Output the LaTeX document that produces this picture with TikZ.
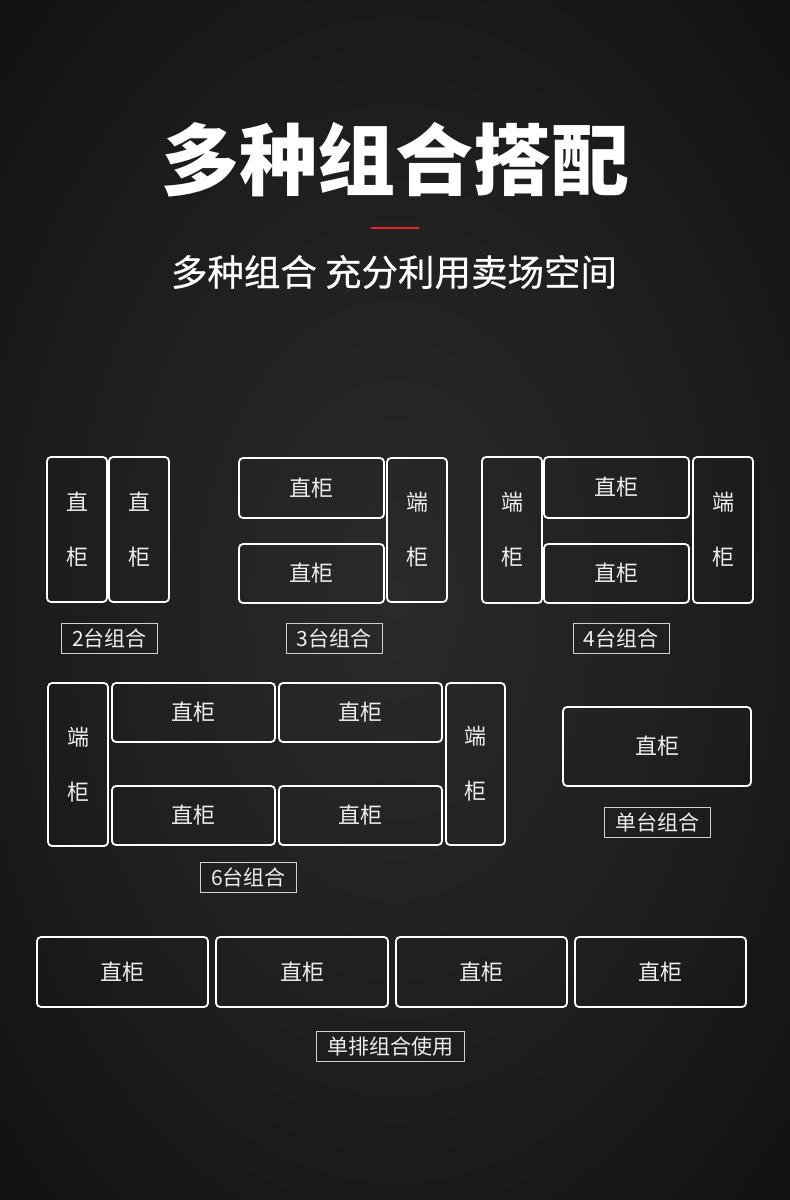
\documentclass[tikz,border=0pt]{standalone}
\usepackage{fontspec}
\setmainfont{Noto Sans CJK SC}
\newfontfamily\cjksub{Noto Sans CJK SC}[FakeBold=0.5]
\usepackage{tikz}

\definecolor{bgmid}{HTML}{2A2A2A}
\definecolor{bgring}{HTML}{1E1E1E}
\definecolor{bgedge}{HTML}{0C0C0C}
\definecolor{inkwhite}{HTML}{EEEEEE}
\definecolor{tagline}{HTML}{D0D0D0}
\definecolor{accentred}{HTML}{E3262E}

\pgfdeclareradialshading{backglow}{\pgfpoint{0bp}{0bp}}{%
  color(0bp)=(bgmid); color(20bp)=(bgring); color(42bp)=(bgedge); color(50bp)=(bgedge)}

\begin{document}
\begin{tikzpicture}[
    x=1pt,
    y=-1pt,
    cabinet/.style={draw=white, line width=1.8pt, rounded corners=4pt, text=inkwhite,
      align=center, inner sep=0pt, font=\fontsize{22}{55}\selectfont},
    tag/.style={draw=tagline, line width=0.9pt, text=inkwhite, inner xsep=11pt,
      inner ysep=0pt, minimum height=30pt, font=\fontsize{21}{24}\selectfont},
    headline/.style={text=white, font=\fontsize{78}{80}\selectfont\bfseries},
    subline/.style={text=white, font=\cjksub\fontsize{36.5}{40}\selectfont},
    redline/.style={draw=accentred, line width=2.4pt}
  ]
    \newcommand{\cab}[6]{%
      \node[cabinet, minimum width={#4pt-#2pt}, minimum height={#5pt-#3pt}]
        (#1) at ({(#2+#4)/2},{(#3+#5)/2}) {#6};
    }

    % background
    \useasboundingbox (0,0) rectangle (790,1200);
    \shade[shading=backglow] (0,0) rectangle (790,1200);

    % heading
    \node[headline] (title) at (395,160) {多种组合搭配};
    \draw[redline] (371,228) -- (419,228);
    \node[subline] (subtitle) at (394,272) {多种组合 充分利用卖场空间};

    % 2 units
    \cab{a1}{47}{457}{107}{602}{直\\柜}
    \cab{a2}{109}{457}{169}{602}{直\\柜}
    \node[tag] (tagA) at (109.5,638) {2台组合};

    % 3 units
    \cab{b1}{239}{458}{384}{518}{直柜}
    \cab{b2}{239}{544}{384}{603}{直柜}
    \cab{b3}{387}{458}{447}{602}{端\\柜}
    \node[tag] (tagB) at (334.3,638) {3台组合};

    % 4 units
    \cab{c1}{482}{457}{542}{603}{端\\柜}
    \cab{c2}{544}{457}{689}{518}{直柜}
    \cab{c3}{544}{544}{689}{603}{直柜}
    \cab{c4}{693}{457}{753}{603}{端\\柜}
    \node[tag] (tagC) at (621.3,638) {4台组合};

    % 6 units
    \cab{d1}{48}{683}{108}{846}{端\\柜}
    \cab{d2}{112}{683}{275}{742}{直柜}
    \cab{d3}{279}{683}{442}{742}{直柜}
    \cab{d4}{112}{786}{275}{845}{直柜}
    \cab{d5}{279}{786}{442}{845}{直柜}
    \cab{d6}{446}{683}{505}{845}{端\\柜}
    \node[tag] (tagD) at (248.5,877.3) {6台组合};

    % single unit
    \cab{e1}{563}{707}{751}{786}{直柜}
    \node[tag] (tagE) at (657.5,822.3) {单台组合};

    % single row
    \cab{f1}{37}{937}{208}{1007}{直柜}
    \cab{f2}{216}{937}{388}{1007}{直柜}
    \cab{f3}{396}{937}{567}{1007}{直柜}
    \cab{f4}{575}{937}{746}{1007}{直柜}
    \node[tag] (tagF) at (390,1046.3) {单排组合使用};
  \end{tikzpicture}
\end{document}
